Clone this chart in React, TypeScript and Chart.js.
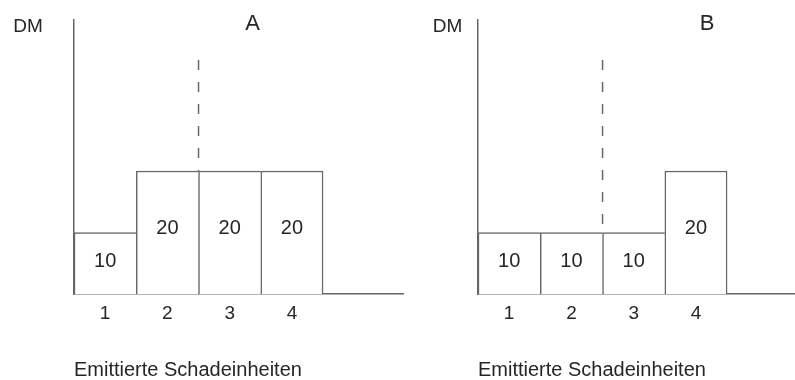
import React, { useEffect, useRef } from "react";
import { Chart, registerables } from "chart.js";

Chart.register(...registerables);

// ---- data ----
const categories = [1, 2, 3, 4];
const valuesA = [10, 20, 20, 20];
const valuesB = [10, 10, 10, 20];
const dashedA = [38, 20]; // from (top) / to (bar top), DM units, of the dashed line
const dashedB = [38, 10];
const dashedAt = 2.5; // between category 2 and 3
const panelTitles = ["A", "B"];
const yLabel = "DM";
const xTitle = "Emittierte Schadeinheiten";
const yMax = 44.5;

const FONT = '"Liberation Sans", Arial, Helvetica, sans-serif';
const TEXT = "#262626";
const LINE = "#666666";

const annotPlugin = {
  id: "annot",
  afterDatasetsDraw(chart: any, _args: any, opts: any) {
    const { ctx, chartArea, scales } = chart;
    const meta = chart.getDatasetMeta(0);
    const vals = chart.data.datasets[0].data;
    ctx.save();
    ctx.fillStyle = TEXT;
    ctx.textAlign = "center";
    ctx.textBaseline = "middle";
    ctx.font = `20px ${FONT}`;
    meta.data.forEach((bar: any, i: number) => {
      const p = bar.getProps(["x", "y", "base"], true);
      ctx.fillText(String(vals[i].y), p.x, p.y + (p.base - p.y) * 0.47);
    });
    ctx.font = `22px ${FONT}`;
    ctx.fillText(opts.title, scales.x.getPixelForValue(opts.titleX), chartArea.top + 4);
    ctx.font = `19px ${FONT}`;
    ctx.fillText(yLabel, chartArea.left + opts.labelOffset, chartArea.top + 7);
    ctx.restore();
  },
};

type PanelProps = {
  values: number[];
  dashed: number[];
  title: string;
  left: number;
  width: number;
  padLeft: number;
  xMax: number;
  titleX: number;
  labelOffset: number;
};

function Panel(props: PanelProps) {
  const ref = useRef<HTMLCanvasElement | null>(null);
  useEffect(() => {
    if (!ref.current) return;
    const lastIdx = props.values.length - 1;
    const chart = new Chart(ref.current, {
      type: "bar",
      data: {
        datasets: [
          {
            type: "bar",
            data: categories.map((c, i) => ({ x: c, y: props.values[i] })),
            backgroundColor: "#ffffff",
            borderColor: LINE,
            borderSkipped: false,
            borderWidth: (c: any) => ({
              left: 1.5,
              top: 1.5,
              bottom: 0,
              right: c.dataIndex === lastIdx ? 1.5 : 0,
            }),
            barPercentage: 1,
            categoryPercentage: 1,
          } as any,
          {
            type: "line",
            data: props.dashed.map((v) => ({ x: dashedAt, y: v })),
            borderColor: LINE,
            borderWidth: 1.5,
            borderDash: [10, 12],
            pointRadius: 0,
            fill: false,
          } as any,
        ],
      },
      options: {
        responsive: false,
        animation: false,
        layout: { padding: { left: props.padLeft, top: 20, right: 0, bottom: 0 } },
        plugins: {
          legend: { display: false },
          tooltip: { enabled: false },
          annot: { title: props.title, titleX: props.titleX, labelOffset: props.labelOffset },
        } as any,
        scales: {
          x: {
            type: "linear",
            position: "bottom",
            offset: false,
            min: 0.5,
            max: props.xMax,
            afterBuildTicks: (axis: any) => {
              axis.ticks = categories.map((v) => ({ value: v }));
            },
            grid: { display: false, drawTicks: false },
            border: { display: true, color: LINE, width: 1.5 },
            ticks: {
              padding: 8,
              color: TEXT,
              font: { family: FONT, size: 19 },
              maxRotation: 0,
            },
            title: {
              display: true,
              text: xTitle,
              align: "start",
              color: TEXT,
              font: { family: FONT, size: 20, lineHeight: 1 },
              padding: { top: 27, bottom: 0 },
            },
          },
          y: {
            type: "linear",
            min: 0,
            max: yMax,
            grid: { display: false, drawTicks: false },
            border: { display: true, color: LINE, width: 1.5 },
            ticks: { display: false },
          },
        },
      } as any,
      plugins: [annotPlugin],
    });
    return () => chart.destroy();
  }, []);
  return (
    <canvas
      ref={ref}
      width={props.width}
      height={380}
      style={{ position: "absolute", left: props.left, top: 0, width: props.width, height: 380 }}
    />
  );
}

export default function App() {
  return (
    <div style={{ position: "fixed", left: 0, top: 0, width: 795, height: 380, background: "#fff" }}>
      <Panel values={valuesA} dashed={dashedA} title={panelTitles[0]} left={0} width={404}
        padLeft={74} xMax={5.8} titleX={3.37} labelOffset={-46} />
      <Panel values={valuesB} dashed={dashedB} title={panelTitles[1]} left={400} width={395}
        padLeft={78} xMax={5.59} titleX={4.18} labelOffset={-30.5} />
    </div>
  );
}
